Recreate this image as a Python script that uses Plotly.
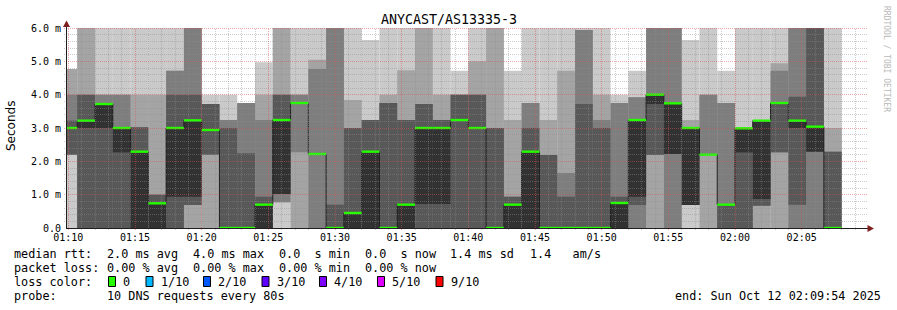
import math
import plotly.graph_objects as go
from datetime import datetime, timedelta

# ---------------- data ----------------
chart_title = "ANYCAST/AS13335-3"
y_title = "Seconds"
first_slot_start = datetime(2025, 10, 12, 1, 9, 20)
step_seconds = 80
view_start = datetime(2025, 10, 12, 1, 9, 54)
view_end = datetime(2025, 10, 12, 2, 9, 54)

# sorted ping round-trip times per 80 s round (ms), ping1 = fastest ... ping10 = slowest
ping1 = [0, 0, 0, 0, 0, 0, 0, 0, 0, 0,
         0, 0, 0, 0, 0, 0, 0, 0, 0, 0,
         0, 0, 0, 0, 0, 0, 0, 0, 0, 0,
         0, 0, 0, 0, 0, 0, 0, 0, 0, 0,
         0, 0, 0, 0]
ping2 = [2.2, 0, 0, 0, 0, 0, 0, 0, 0, 0,
         0, 0, 0.77, 0, 0, 0, 0, 0, 0, 0,
         0, 0, 0, 0, 0, 0, 0, 0, 0, 0,
         0, 0, 0, 0, 0, 0.69, 0, 0, 0, 0,
         0, 0, 0, 0]
ping3 = [2.2, 0, 0, 0, 0, 0, 0, 0.69, 2.2, 0,
         0, 0, 0.77, 2.27, 0, 0, 0, 0, 0, 0,
         0, 0, 0, 0, 0, 0, 0, 0, 0, 0,
         0, 0, 0, 2.19, 0, 0.69, 2.2, 0, 0, 0.67,
         2.27, 0, 0, 0]
ping4 = [2.2, 0, 0, 0, 0, 0, 0, 0.69, 2.2, 0,
         0, 0, 1.02, 3.75, 2.22, 0, 0, 0, 0, 0,
         0, 0, 0, 0, 0, 0, 0, 0, 0, 0,
         0, 0, 0.69, 2.19, 2.22, 0.69, 2.2, 0, 0, 0.67,
         2.27, 0.7, 2.29, 0]
ping5 = [3.0, 3.0, 3.0, 2.27, 0, 0, 0.94, 0.94, 2.94, 0,
         0, 0, 1.02, 3.75, 2.22, 0, 0, 0, 0, 0,
         0.72, 0.72, 3.24, 3.0, 0, 0, 0, 0, 0, 0,
         0, 0, 0.94, 3.72, 2.22, 0.69, 2.2, 0.7, 2.27, 0.87,
         3.75, 3.0, 2.29, 0]
ping6 = [3.0, 3.22, 3.72, 3.0, 2.29, 0.74, 3.0, 3.23, 2.94, 0,
         0, 0.7, 3.24, 3.75, 2.22, 0, 0.45, 2.29, 0, 0.7,
         3.0, 3.0, 3.24, 3.0, 0, 0.7, 2.29, 0, 0, 0,
         0, 0.75, 3.24, 4.0, 3.74, 3.0, 2.2, 0.7, 2.99, 3.22,
         3.75, 3.22, 3.04, 0]
ping7 = [3.22, 4.0, 3.72, 3.0, 3.02, 1.0, 4.0, 4.0, 3.72, 3.0,
         2.24, 0.94, 4.0, 3.75, 2.22, 0.7, 3.0, 3.24, 3.75, 3.24,
         3.72, 3.24, 4.0, 4.0, 3.0, 0.94, 3.0, 2.19, 0.94, 3.72,
         3.0, 0.94, 3.24, 4.0, 3.74, 3.0, 2.2, 0.7, 2.99, 3.22,
         3.75, 3.94, 6.0, 2.29]
ping8 = [4.0, 4.0, 4.0, 4.0, 3.02, 1.0, 4.72, 6.0, 3.72, 3.24,
         3.75, 3.24, 4.0, 4.0, 4.77, 6.0, 3.0, 3.24, 3.75, 3.24,
         3.72, 3.24, 4.0, 4.0, 3.0, 0.94, 3.75, 2.19, 1.65, 5.94,
         3.24, 3.75, 3.92, 6.0, 6.0, 3.0, 4.0, 3.75, 2.99, 3.22,
         4.72, 6.0, 6.0, 2.29]
ping9 = [4.77, 6.0, 4.0, 4.0, 4.0, 4.0, 4.72, 6.0, 3.72, 3.24,
         3.75, 4.0, 6.0, 4.0, 5.05, 6.0, 3.84, 3.24, 4.0, 4.73,
         6.0, 4.0, 4.0, 5.0, 6.0, 3.24, 3.75, 3.24, 4.72, 5.94,
         4.0, 3.75, 3.92, 6.0, 6.0, 3.24, 4.0, 3.75, 2.99, 3.22,
         4.94, 6.0, 6.0, 3.0]
ping10 = [4.77, 6.0, 6.0, 6.0, 6.0, 6.0, 6.0, 6.0, 4.0, 4.0,
          3.75, 4.97, 6.0, 6.0, 6.0, 6.0, 6.0, 5.64, 6.0, 6.0,
          6.0, 6.0, 4.72, 6.0, 6.0, 4.72, 6.0, 6.0, 6.0, 6.0,
          6.0, 4.0, 4.72, 6.0, 6.0, 5.64, 6.0, 4.72, 6.0, 6.0,
          6.0, 6.0, 6.0, 6.0]
median_ms = [3.0, 3.22, 3.72, 3.0, 2.29, 0.74, 3.0, 3.23, 2.94, 0,
             0, 0.7, 3.24, 3.75, 2.22, 0, 0.45, 2.29, 0, 0.7,
             3.0, 3.0, 3.24, 3.0, 0, 0.7, 2.29, 0, 0, 0,
             0, 0.75, 3.24, 4.0, 3.74, 3.0, 2.2, 0.7, 2.99, 3.22,
             3.75, 3.22, 3.04, 0]

y_tick_values = [0, 1, 2, 3, 4, 5, 6]
y_tick_labels = ["0.0", "1.0 m", "2.0 m", "3.0 m", "4.0 m", "5.0 m", "6.0 m"]
x_tick_labels = ["01:10", "01:15", "01:20", "01:25", "01:30", "01:35",
                 "01:40", "01:45", "01:50", "01:55", "02:00", "02:05"]

stats_rtt = ["median rtt:", "2.0 ms avg", "4.0 ms max", "0.0  s min", "0.0  s now", "1.4 ms sd", "1.4   am/s"]
stats_loss = ["packet loss:", "0.00 % avg", "0.00 % max", "0.00 % min", "0.00 % now"]
loss_title = "loss color:"
loss_labels = ["0", "1/10", "2/10", "3/10", "4/10", "5/10", "9/10"]
loss_colors = ["#26ff00", "#00b8ff", "#0059ff", "#5e00ff", "#7e00ff", "#dd00ff", "#ff0000"]
probe_title = "probe:"
probe_text = "10 DNS requests every 80s"
end_text = "end: Sun Oct 12 02:09:54 2025"
watermark = "RRDTOOL / TOBI OETIKER"

# ---------------- styling / layout (pixels) ----------------
smoke_colors = ["#cacaca", "#a4a4a4", "#7e7e7e", "#585858", "#323232"]
median_line_color = "#202020"
W, H = 897, 310
PL, PR, PT, PB = 67, 867, 28, 228
Y_MAX = 6.0
MONO = "DejaVu Sans Mono"
SANS = "DejaVu Sans"
LEG = 11.8
GRID_MINOR = "rgba(143,143,143,0.45)"
GRID_MAJOR = "rgba(222,79,79,0.5)"


def px(X):
    return (X - PL) / (PR - PL)


def py(Y):
    return (PB - Y) / (PB - PT)


def nb(s):
    return s.replace(" ", "\u00a0")


n = len(median_ms)
starts = [first_slot_start + timedelta(seconds=step_seconds * i) for i in range(n)]
centers = [s + timedelta(seconds=step_seconds / 2) for s in starts]
ends = [s + timedelta(seconds=step_seconds) for s in starts]
pings = [ping1, ping2, ping3, ping4, ping5, ping6, ping7, ping8, ping9, ping10]

fig = go.Figure()
for i in range(5):
    lo = pings[i]
    hi = pings[9 - i]
    fig.add_trace(go.Bar(
        x=centers, base=lo, y=[h - l for h, l in zip(hi, lo)],
        width=step_seconds * 1000,
        marker=dict(color=smoke_colors[i], line=dict(width=0)),
        hoverinfo="skip", showlegend=False))

# median step line
fig.add_trace(go.Scatter(
    x=starts + [ends[-1]], y=median_ms + [median_ms[-1]],
    mode="lines", line=dict(color=median_line_color, width=1, shape="hv"),
    hoverinfo="skip", showlegend=False))

# loss-coloured median segments (loss 0 everywhere)
gx, gy = [], []
for s, e, m in zip(starts, ends, median_ms):
    gx += [s, e, None]
    gy += [m, m, None]
fig.add_trace(go.Scatter(
    x=gx, y=gy, mode="lines", line=dict(color=loss_colors[0], width=2.4),
    hoverinfo="skip", showlegend=False))

shapes = []
# grid (drawn above the smoke like rrdtool), snapped to pixel centres for crisp dots
span_s = (view_end - view_start).total_seconds()
t0 = datetime(2025, 10, 12, 1, 10)
for k in range(60):
    t = t0 + timedelta(minutes=k)
    major = (t.minute % 5 == 0)
    X = PL + (t - view_start).total_seconds() / span_s * (PR - PL)
    Xs = math.floor(X) + 0.5
    shapes.append(dict(type="line", xref="paper", yref="paper", x0=px(Xs), x1=px(Xs), y0=py(230), y1=py(PT),
                       layer="above",
                       line=dict(color=GRID_MAJOR if major else GRID_MINOR, width=1, dash="1px,1px")))
for k in range(1, 31):
    v = k * 0.2
    major = (k % 5 == 0)
    Y = PB - v / Y_MAX * (PB - PT)
    Ys = math.floor(Y + 0.01) + 0.5
    shapes.append(dict(type="line", xref="paper", yref="paper", x0=px(64), x1=px(PR), y0=py(Ys), y1=py(Ys),
                       layer="above",
                       line=dict(color=GRID_MAJOR if major else GRID_MINOR, width=1, dash="1px,1px")))
# axes
shapes.append(dict(type="line", xref="paper", yref="paper", x0=px(66), x1=px(868), y0=py(228.5), y1=py(228.5),
                   layer="above", line=dict(color="#1f1f1f", width=1)))
shapes.append(dict(type="line", xref="paper", yref="paper", x0=px(66.5), x1=px(66.5), y0=py(229), y1=py(26),
                   layer="above", line=dict(color="#1f1f1f", width=1)))
# arrows
shapes.append(dict(type="path", xref="paper", yref="paper",
                   path="M {} {} L {} {} L {} {} Z".format(px(867.5), py(225), px(874), py(228.5), px(867.5), py(232)),
                   fillcolor="#801f1f", line=dict(width=0), layer="above"))
shapes.append(dict(type="path", xref="paper", yref="paper",
                   path="M {} {} L {} {} L {} {} Z".format(px(63), py(27), px(66.5), py(20.5), px(70), py(27)),
                   fillcolor="#801f1f", line=dict(width=0), layer="above"))

annotations = []


def text(s, X, Y, size=LEG, anchor="left", family=MONO, color="black", angle=0):
    annotations.append(dict(text=nb(s), xref="paper", yref="paper", x=px(X), y=py(Y),
                            xanchor=anchor, yanchor="middle", showarrow=False,
                            borderpad=0, borderwidth=0, textangle=angle,
                            font=dict(family=family, size=size, color=color)))


text(chart_title, 448.5, 19.5, size=13.3, anchor="center")
text(y_title, 11, 126, size=12, anchor="center", family=SANS, angle=-90)
text(watermark, 887, 59, size=8, anchor="center", color="#b8b8b8", angle=90)

row_y = [254, 268, 282, 296]
rtt_x = [14, 107, 193, 279, 365, 450, 530]
for s, X in zip(stats_rtt, rtt_x):
    text(s, X, row_y[0])
loss_x = [14, 107, 193, 279, 365]
for s, X in zip(stats_loss, loss_x):
    text(s, X, row_y[1])
text(loss_title, 14, row_y[2])
box_x = [108, 145.5, 203, 261.5, 319, 377, 435.5]
for lab, col, X in zip(loss_labels, loss_colors, box_x):
    shapes.append(dict(type="rect", xref="paper", yref="paper",
                       x0=px(X + 0.5), x1=px(X + 7.5), y0=py(276.5), y1=py(286.5),
                       fillcolor=col, line=dict(color="black", width=1)))
    text(lab, X + 15, row_y[2])
text(probe_title, 14, row_y[3])
text(probe_text, 107, row_y[3])
text(end_text, 880.5, row_y[3], anchor="right")

fig.update_layout(
    width=W, height=H,
    margin=dict(l=PL, r=W - PR, t=PT, b=H - PB, pad=0),
    paper_bgcolor="white", plot_bgcolor="white",
    barmode="overlay", showlegend=False,
    font=dict(family=MONO, size=10, color="black"),
    shapes=shapes, annotations=annotations,
    xaxis=dict(type="date", range=[view_start, view_end], showgrid=False, zeroline=False,
               showline=False, ticks="", tickvals=[datetime(2025, 10, 12, int(l[:2]), int(l[3:])) for l in x_tick_labels],
               ticktext=x_tick_labels, tickfont=dict(family=MONO, size=10, color="black"),
               ticklabelstandoff=2, fixedrange=True),
    yaxis=dict(range=[0, Y_MAX], showgrid=False, zeroline=False, showline=False, ticks="",
               tickvals=y_tick_values, ticktext=[nb(t) for t in y_tick_labels],
               tickfont=dict(family=MONO, size=10, color="black"),
               ticklabelstandoff=5, fixedrange=True),
)

fig.write_html("out.html")
